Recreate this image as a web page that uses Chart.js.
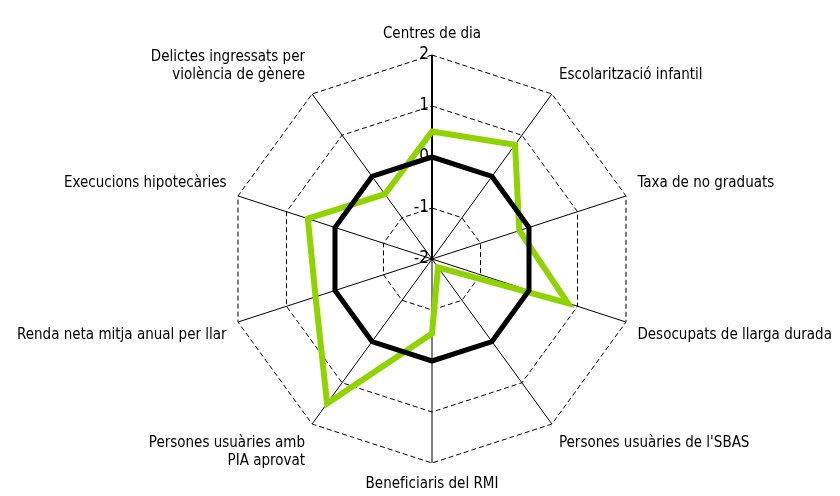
<!DOCTYPE html>
<html lang="ca">
<head>
    <meta charset="UTF-8">
    <title>Radar</title>
    <style>
        html, body { margin: 0; padding: 0; background: #fff; }
        #wrap { width: 840px; height: 496px; }
    </style>
</head>
<body>
    <div id="wrap"><canvas id="myChart" width="840" height="496"></canvas></div>

    <script src="https://cdn.jsdelivr.net/npm/chart.js@4"></script>
    <script>
        const labels = [
            'Centres de dia',
            'Escolarització infantil',
            'Taxa de no graduats',
            'Desocupats de llarga durada',
            "Persones usuàries de l'SBAS",
            'Beneficiaris del RMI',
            ['Persones usuàries amb', 'PIA aprovat'],
            'Renda neta mitja anual per llar',
            'Execucions hipotecàries',
            ['Delictes ingressats per', 'violència de gènere']
        ];
        const base = [0, 0, 0, 0, 0, 0, 0, 0, 0, 0];
        const district = [0.5, 0.77, -0.2, 0.8, -1.8, -0.54, 1.5, 0.4, 0.56, -0.43];
        const tickLabels = ['-2', '-1', '0', '1', '2'];

        const FONT = "'Liberation Sans Narrow', 'DejaVu Sans Condensed', sans-serif";

        // tick numbers sit just left of the vertical axis, no backdrop
        const tickPlugin = {
            id: 'leftTicks',
            afterDraw(chart) {
                const s = chart.scales.r;
                const c = chart.ctx;
                c.save();
                c.font = '17px ' + FONT;
                c.fillStyle = '#000';
                c.textAlign = 'right';
                c.textBaseline = 'middle';
                tickLabels.forEach((t) => {
                    const p = s.getPointPositionForValue(0, Number(t));
                    c.fillText(t, p.x - 3, p.y);
                });
                c.restore();
            }
        };

        var ctx = document.getElementById('myChart').getContext('2d');
        var myChart = new Chart(ctx, {
            type: 'radar',
            data: {
                labels: labels,
                datasets: [
                    { label: 'Barcelona', data: base, borderColor: '#000', borderWidth: 5, fill: false, pointRadius: 0, tension: 0 },
                    { label: 'Districte', data: district, borderColor: '#8fd400', borderWidth: 6, fill: false, pointRadius: 0, tension: 0 }
                ]
            },
            options: {
                responsive: false,
                animation: false,
                layout: { padding: { top: 23, bottom: -29, left: 10, right: 0 } },
                plugins: { legend: { display: false }, tooltip: { enabled: false } },
                scales: {
                    r: {
                        min: -2,
                        max: 2,
                        ticks: { stepSize: 1, display: false },
                        grid: { color: '#000', lineWidth: 1 },
                        border: { dash: [5, 3] },
                        angleLines: {
                            color: '#000',
                            lineWidth: (c) => (c.index === 0 ? 2 : 1)
                        },
                        pointLabels: {
                            color: '#000',
                            font: { family: FONT, size: 15 },
                            padding: 12
                        }
                    }
                }
            },
            plugins: [tickPlugin]
        });
    </script>
</body>
</html>
